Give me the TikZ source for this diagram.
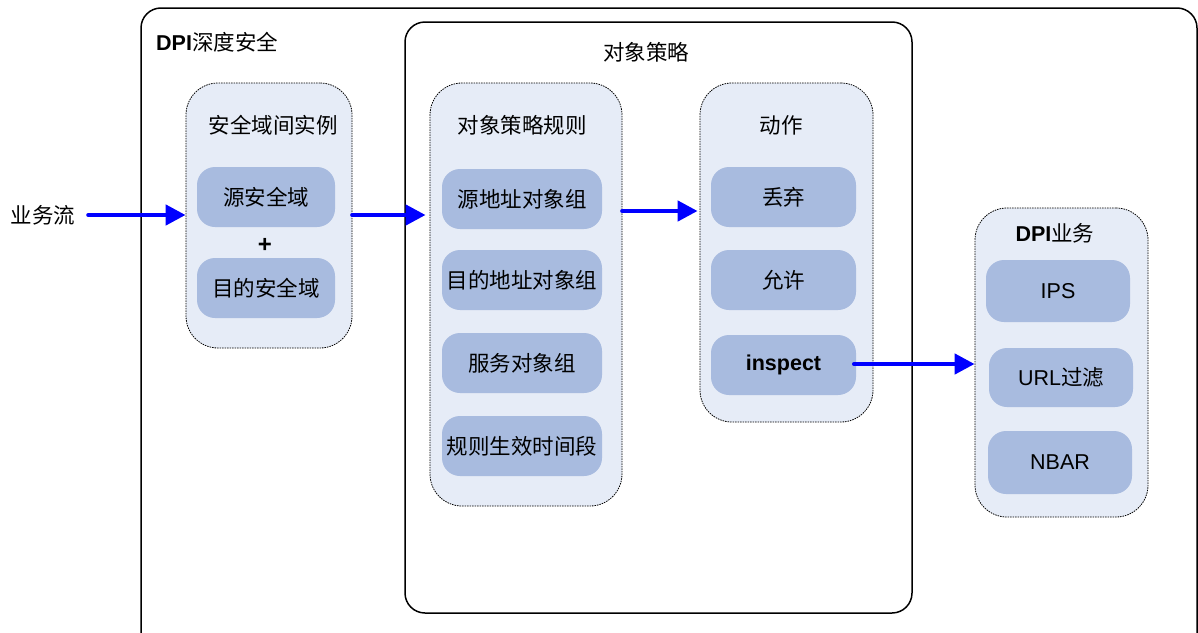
\documentclass[tikz,border=0pt]{standalone}
\usepackage{fontspec}
\setmainfont{Liberation Sans}
\newfontfamily\cjk{Noto Sans CJK SC}
\usetikzlibrary{arrows.meta}
\definecolor{grpfill}{HTML}{E6ECF7}
\definecolor{boxfill}{HTML}{A8BBDF}
\definecolor{flowblue}{HTML}{0000FF}
\tikzset{
  frame/.style={draw=black, line width=1.5pt, rounded corners=20pt},
  grp/.style={draw=black, dash pattern=on 1.5pt off 1pt, line width=0.8pt, fill=grpfill, rounded corners=32pt, inner sep=0pt},
  itembox/.style={fill=boxfill, rounded corners=18pt, inner sep=0pt, font=\fontsize{21.5}{24}\selectfont},
  ttl/.style={inner sep=0pt, font=\fontsize{21.5}{24}\selectfont},
  flow/.style={draw=flowblue, line width=4.5pt, line cap=round, -{Triangle[length=20pt,width=20pt]}},
}
\begin{document}
\begin{tikzpicture}[x=1pt,y=-1pt]
\useasboundingbox (0,0) rectangle (1198,632);
\clip (0,0) rectangle (1198,632);
% outer frames
\node[frame, minimum width=1056pt, minimum height=660pt, inner sep=0pt] (outer) at (669,338) {};
\node[ttl, anchor=west] (outerlbl) at (156,42) {\textbf{DPI}{\cjk 深度安全}};
\node[frame, minimum width=507pt, minimum height=591pt, inner sep=0pt] (mid) at (658.5,317.5) {};
\node[ttl] (midlbl) at (646,52) {\cjk 对象策略};
% group 1
\node[grp, minimum width=166pt, minimum height=265pt] (g1) at (269,215.5) {};
\node[ttl] (g1t) at (273,125) {\cjk 安全域间实例};
\node[itembox, minimum width=138pt, minimum height=60pt] (src) at (266,197) {\cjk 源安全域};
\node[ttl, font=\fontsize{24}{24}\selectfont\bfseries] (plus) at (265,245) {+};
\node[itembox, minimum width=138pt, minimum height=60pt] (dst) at (266,288) {\cjk 目的安全域};
% group 2
\node[grp, minimum width=192pt, minimum height=423pt] (g2) at (526,294.5) {};
\node[ttl] (g2t) at (522,125) {\cjk 对象策略规则};
\node[itembox, minimum width=160pt, minimum height=60pt] (r1) at (522,199) {\cjk 源地址对象组};
\node[itembox, minimum width=160pt, minimum height=60pt] (r2) at (522,280) {\cjk 目的地址对象组};
\node[itembox, minimum width=160pt, minimum height=60pt] (r3) at (522,363) {\cjk 服务对象组};
\node[itembox, minimum width=160pt, minimum height=60pt] (r4) at (522,446) {\cjk 规则生效时间段};
% group 3
\node[grp, minimum width=173pt, minimum height=339pt] (g3) at (786.5,252.5) {};
\node[ttl] (g3t) at (781,125) {\cjk 动作};
\node[itembox, minimum width=145pt, minimum height=60pt] (a1) at (783.5,197) {\cjk 丢弃};
\node[itembox, minimum width=145pt, minimum height=60pt] (a2) at (783.5,280) {\cjk 允许};
\node[itembox, minimum width=145pt, minimum height=60pt, font=\fontsize{21.5}{24}\selectfont\bfseries] (a3) at (783.5,365) {inspect};
% group 4
\node[grp, minimum width=173pt, minimum height=309pt] (g4) at (1061.5,362.5) {};
\node[ttl] (g4t) at (1055,233) {\textbf{DPI}{\cjk 业务}};
\node[itembox, minimum width=144pt, minimum height=62pt] (d1) at (1058,291) {IPS};
\node[itembox, minimum width=144pt, minimum height=59pt] (d2) at (1061,377.5) {URL{\cjk 过滤}};
\node[itembox, minimum width=144pt, minimum height=63pt] (d3) at (1060,462.5) {NBAR};
% flow label
\node[ttl] (flowlbl) at (43,215) {\cjk 业务流};
% connectors
\draw[flow, shorten <=13pt] (flowlbl.east) -- (g1.west |- flowlbl.east);
\draw[flow, shorten >=4pt] (g1.east |- flowlbl.east) -- (g2.west |- flowlbl.east);
\draw[flow, shorten >=2pt] (g2.east |- 0,211) -- (g3.west |- 0,211);
\draw[flow, shorten <=-2pt] (a3.east |- 0,364) -- (g4.west |- 0,364);
\end{tikzpicture}
\end{document}
